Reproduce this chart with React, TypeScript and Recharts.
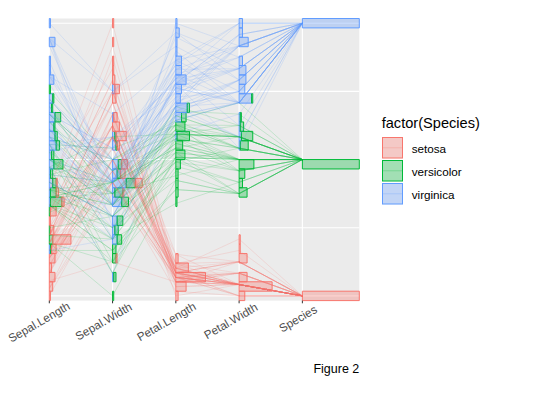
import React from 'react';
import { ComposedChart, Line, XAxis, YAxis, CartesianGrid, ReferenceArea } from 'recharts';

// ---------- data (iris) ----------
const axisNames = ['Sepal.Length', 'Sepal.Width', 'Petal.Length', 'Petal.Width', 'Species'];
const speciesNames = ['setosa', 'versicolor', 'virginica'];
const speciesColors = ['#F8766D', '#00BA38', '#619CFF'];
// 0 = setosa, 1 = versicolor, 2 = virginica (row order)
const speciesCode =
  '00000000000000000000000000000000000000000000000000' +
  '11111111111111111111111111111111111111111111111111' +
  '22222222222222222222222222222222222222222222222222';

const sepalLength = [
  5.1, 4.9, 4.7, 4.6, 5.0, 5.4, 4.6, 5.0, 4.4, 4.9, 5.4, 4.8, 4.8, 4.3, 5.8, 5.7, 5.4, 5.1, 5.7, 5.1,
  5.4, 5.1, 4.6, 5.1, 4.8, 5.0, 5.0, 5.2, 5.2, 4.7, 4.8, 5.4, 5.2, 5.5, 4.9, 5.0, 5.5, 4.9, 4.4, 5.1,
  5.0, 4.5, 4.4, 5.0, 5.1, 4.8, 5.1, 4.6, 5.3, 5.0,
  7.0, 6.4, 6.9, 5.5, 6.5, 5.7, 6.3, 4.9, 6.6, 5.2, 5.0, 5.9, 6.0, 6.1, 5.6, 6.7, 5.6, 5.8, 6.2, 5.6,
  5.9, 6.1, 6.3, 6.1, 6.4, 6.6, 6.8, 6.7, 6.0, 5.7, 5.5, 5.5, 5.8, 6.0, 5.4, 6.0, 6.7, 6.3, 5.6, 5.5,
  5.5, 6.1, 5.8, 5.0, 5.6, 5.7, 5.7, 6.2, 5.1, 5.7,
  6.3, 5.8, 7.1, 6.3, 6.5, 7.6, 4.9, 7.3, 6.7, 7.2, 6.5, 6.4, 6.8, 5.7, 5.8, 6.4, 6.5, 7.7, 7.7, 6.0,
  6.9, 5.6, 7.7, 6.3, 6.7, 7.2, 6.2, 6.1, 6.4, 7.2, 7.4, 7.9, 6.4, 6.3, 6.1, 7.7, 6.3, 6.4, 6.0, 6.9,
  6.7, 6.9, 5.8, 6.8, 6.7, 6.7, 6.3, 6.5, 6.2, 5.9,
];
const sepalWidth = [
  3.5, 3.0, 3.2, 3.1, 3.6, 3.9, 3.4, 3.4, 2.9, 3.1, 3.7, 3.4, 3.0, 3.0, 4.0, 4.4, 3.9, 3.5, 3.8, 3.8,
  3.4, 3.7, 3.6, 3.3, 3.4, 3.0, 3.4, 3.5, 3.4, 3.2, 3.1, 3.4, 4.1, 4.2, 3.1, 3.2, 3.5, 3.6, 3.0, 3.4,
  3.5, 2.3, 3.2, 3.5, 3.8, 3.0, 3.8, 3.2, 3.7, 3.3,
  3.2, 3.2, 3.1, 2.3, 2.8, 2.8, 3.3, 2.4, 2.9, 2.7, 2.0, 3.0, 2.2, 2.9, 2.9, 3.1, 3.0, 2.7, 2.2, 2.5,
  3.2, 2.8, 2.5, 2.8, 2.9, 3.0, 2.8, 3.0, 2.9, 2.6, 2.4, 2.4, 2.7, 2.7, 3.0, 3.4, 3.1, 2.3, 3.0, 2.5,
  2.6, 3.0, 2.6, 2.3, 2.7, 3.0, 2.9, 2.9, 2.5, 2.8,
  3.3, 2.7, 3.0, 2.9, 3.0, 3.0, 2.5, 2.9, 2.5, 3.6, 3.2, 2.7, 3.0, 2.5, 2.8, 3.2, 3.0, 3.8, 2.6, 2.2,
  3.2, 2.8, 2.8, 2.7, 3.3, 3.2, 2.8, 3.0, 2.8, 3.0, 2.8, 3.8, 2.8, 2.8, 2.6, 3.0, 3.4, 3.1, 3.0, 3.1,
  3.1, 3.1, 2.7, 3.2, 3.3, 3.0, 2.5, 3.0, 3.4, 3.0,
];
const petalLength = [
  1.4, 1.4, 1.3, 1.5, 1.4, 1.7, 1.4, 1.5, 1.4, 1.5, 1.5, 1.6, 1.4, 1.1, 1.2, 1.5, 1.3, 1.4, 1.7, 1.5,
  1.7, 1.5, 1.0, 1.7, 1.9, 1.6, 1.6, 1.5, 1.4, 1.6, 1.6, 1.5, 1.5, 1.4, 1.5, 1.2, 1.3, 1.4, 1.3, 1.5,
  1.3, 1.3, 1.3, 1.6, 1.9, 1.4, 1.6, 1.4, 1.5, 1.4,
  4.7, 4.5, 4.9, 4.0, 4.6, 4.5, 4.7, 3.3, 4.6, 3.9, 3.5, 4.2, 4.0, 4.7, 3.6, 4.4, 4.5, 4.1, 4.5, 3.9,
  4.8, 4.0, 4.9, 4.7, 4.3, 4.4, 4.8, 5.0, 4.5, 3.5, 3.8, 3.7, 3.9, 5.1, 4.5, 4.5, 4.7, 4.4, 4.1, 4.0,
  4.4, 4.6, 4.0, 3.3, 4.2, 4.2, 4.2, 4.3, 3.0, 4.1,
  6.0, 5.1, 5.9, 5.6, 5.8, 6.6, 4.5, 6.3, 5.8, 6.1, 5.1, 5.3, 5.5, 5.0, 5.1, 5.3, 5.5, 6.7, 6.9, 5.0,
  5.7, 4.9, 6.7, 4.9, 5.7, 6.0, 4.8, 4.9, 5.6, 5.8, 6.1, 6.4, 5.6, 5.1, 5.6, 6.1, 5.6, 5.5, 4.8, 5.4,
  5.6, 5.1, 5.1, 5.9, 5.7, 5.2, 5.0, 5.2, 5.4, 5.1,
];
const petalWidth = [
  0.2, 0.2, 0.2, 0.2, 0.2, 0.4, 0.3, 0.2, 0.2, 0.1, 0.2, 0.2, 0.1, 0.1, 0.2, 0.4, 0.4, 0.3, 0.3, 0.3,
  0.2, 0.4, 0.2, 0.5, 0.2, 0.2, 0.4, 0.2, 0.2, 0.2, 0.2, 0.4, 0.1, 0.2, 0.2, 0.2, 0.2, 0.1, 0.2, 0.2,
  0.3, 0.3, 0.2, 0.6, 0.4, 0.3, 0.2, 0.2, 0.2, 0.2,
  1.4, 1.5, 1.5, 1.3, 1.5, 1.3, 1.6, 1.0, 1.3, 1.4, 1.0, 1.5, 1.0, 1.4, 1.3, 1.4, 1.5, 1.0, 1.5, 1.1,
  1.8, 1.3, 1.5, 1.2, 1.3, 1.4, 1.4, 1.7, 1.5, 1.0, 1.1, 1.0, 1.2, 1.6, 1.5, 1.6, 1.5, 1.3, 1.3, 1.3,
  1.2, 1.4, 1.2, 1.0, 1.3, 1.2, 1.3, 1.3, 1.1, 1.3,
  2.5, 1.9, 2.1, 1.8, 2.2, 2.1, 1.7, 1.8, 1.8, 2.5, 2.0, 1.9, 2.1, 2.0, 2.4, 2.3, 1.8, 2.2, 2.3, 1.5,
  2.3, 2.0, 2.0, 1.8, 2.1, 1.8, 1.8, 1.8, 2.1, 1.6, 1.9, 2.0, 2.2, 1.5, 1.4, 2.3, 2.4, 1.8, 1.8, 2.1,
  2.4, 2.3, 1.9, 2.3, 2.5, 2.3, 1.9, 2.0, 2.3, 1.8,
];

// ---------- derived tables ----------
const N_BINS = 30;
const BIN_W = 1 / (N_BINS - 1);
const COUNT_UNIT = 0.018; // x-units per observation in a histogram bar

const speciesIdx = speciesCode.split('').map(Number);
const minmax = (arr: number[]) => {
  const mn = Math.min(...arr);
  const mx = Math.max(...arr);
  return arr.map((v) => (v - mn) / (mx - mn));
};
const scaled: number[][] = [
  minmax(sepalLength),
  minmax(sepalWidth),
  minmax(petalLength),
  minmax(petalWidth),
  speciesIdx.map((s) => s / 2),
];

const obsLines = speciesIdx.map((s, i) => ({
  species: s,
  points: scaled.map((col, j) => ({ x: j, y: col[i] })),
}));

type HBar = { axis: number; bin: number; species: number; start: number; end: number };
const histBars: HBar[] = [];
scaled.forEach((col, j) => {
  const counts = Array.from({ length: N_BINS }, () => [0, 0, 0]);
  col.forEach((v, i) => {
    const b = Math.max(0, Math.ceil(v / BIN_W - 0.5 - 1e-7));
    counts[b][speciesIdx[i]] += 1;
  });
  counts.forEach((c, b) => {
    let cum = 0;
    [2, 1, 0].forEach((s) => {
      if (c[s] > 0) {
        histBars.push({ axis: j, bin: b, species: s, start: cum, end: cum + c[s] });
        cum += c[s];
      }
    });
  });
});

// ---------- styling helpers ----------
const FONT = '"Liberation Sans", Arial, sans-serif';
const EM: Record<string, number> = {
  S: 0.667, e: 0.556, p: 0.556, a: 0.556, l: 0.222, '.': 0.278, L: 0.556, n: 0.556, g: 0.556,
  t: 0.278, h: 0.556, W: 0.944, i: 0.222, d: 0.556, P: 0.667, c: 0.5, s: 0.5,
};
const TICK_FS = 11.7;

const AxisTick = (props: any) => {
  const { x, y, payload } = props;
  const label = axisNames[Math.round(payload.value)] ?? '';
  const w = label.split('').reduce((acc: number, ch: string) => acc + (EM[ch] ?? 0.556), 0) * TICK_FS;
  const ay = y + 0.7;
  const cx = x - 0.212 * w + 4.2;
  const cy = ay + 0.1225 * w + 7.27;
  return (
    <text
      x={cx}
      y={cy}
      textAnchor="middle"
      dominantBaseline="central"
      fontSize={TICK_FS}
      fontFamily={FONT}
      fill="#4D4D4D"
      transform={`rotate(-30 ${cx} ${cy})`}
    >
      {label}
    </text>
  );
};

export default function App() {
  return (
    <div style={{ position: 'absolute', left: 0, top: 0, width: 534, height: 393, background: '#FFFFFF' }}>
      <ComposedChart width={534} height={393} margin={{ top: 18.5, right: 174.7, bottom: 32.4, left: 49.3 }}>
        <CartesianGrid
          fill="#EBEBEB"
          stroke="#FFFFFF"
          strokeWidth={1.1}
          horizontalValues={[0, 0.25, 0.5, 0.75, 1]}
          verticalValues={[0, 1, 2, 3, 4]}
        />
        <XAxis
          type="number"
          dataKey="x"
          domain={[0, 4.9]}
          ticks={[0, 1, 2, 3, 4]}
          interval={0}
          allowDataOverflow
          axisLine={false}
          tickSize={2.7}
          tickLine={{ stroke: '#333333', strokeWidth: 1 }}
          tick={<AxisTick />}
          height={60}
        />
        <YAxis type="number" dataKey="y" domain={[-BIN_W / 2, 1 + BIN_W / 2]} allowDataOverflow hide />
        {histBars.map((b, k) => (
          <ReferenceArea
            key={`h${k}`}
            x1={b.axis + b.start * COUNT_UNIT}
            x2={b.axis + b.end * COUNT_UNIT}
            y1={(b.bin - 0.5) * BIN_W}
            y2={(b.bin + 0.5) * BIN_W}
            fill={speciesColors[b.species]}
            fillOpacity={0.33}
            stroke={speciesColors[b.species]}
            strokeWidth={1}
            ifOverflow="visible"
          />
        ))}
        {obsLines.map((l, i) => (
          <Line
            key={`l${i}`}
            data={l.points}
            dataKey="y"
            type="linear"
            stroke={speciesColors[l.species]}
            strokeWidth={0.7}
            strokeOpacity={0.25}
            dot={false}
            activeDot={false}
            isAnimationActive={false}
          />
        ))}
      </ComposedChart>
      <svg
        width={534}
        height={393}
        style={{ position: 'absolute', left: 0, top: 0, pointerEvents: 'none' }}
        fontFamily={FONT}
      >
        <text x={381.7} y={128} fontSize={14.6} fill="#000000">factor(Species)</text>
        {speciesNames.map((name, k) => {
          const ky = 137 + 23 * k;
          return (
            <g key={name}>
              <rect x={382} y={ky} width={21} height={21.5} fill="#F2F2F2" />
              <rect x={382.5} y={ky + 0.5} width={20} height={20.5} fill={speciesColors[k]} fillOpacity={0.33}
                stroke={speciesColors[k]} strokeWidth={1} />
              <line x1={383} x2={402} y1={ky + 10.75} y2={ky + 10.75} stroke={speciesColors[k]} strokeOpacity={0.25} />
              <text x={411.7} y={ky + 10.75 + 5} fontSize={11.7} fill="#000000">{name}</text>
            </g>
          );
        })}
        <text x={359.3} y={373.3} fontSize={12.5} textAnchor="end" fill="#000000">Figure 2</text>
      </svg>
    </div>
  );
}
